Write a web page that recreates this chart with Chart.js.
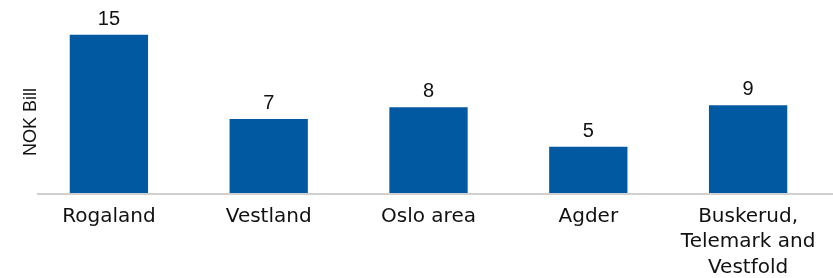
<!DOCTYPE html>
<html>
<head>
<meta charset="utf-8">
<script src="https://cdn.jsdelivr.net/npm/chart.js@4"></script>
<style>
  html, body { margin: 0; padding: 0; background: #fff; }
  #wrap { width: 833px; height: 278px; }
</style>
</head>
<body>
<div id="wrap"><canvas id="c"></canvas></div>
<script>
// regions and values (NOK bill), labels shown rounded
const regions = ['Rogaland', 'Vestland', 'Oslo area', 'Agder', ['Buskerud,', 'Telemark and', 'Vestfold']];
const values = [15.4, 7.2, 8.35, 4.5, 8.55];
const yTitle = 'NOK Bill';

const BAR_COLOR = '#0059a1';

// value labels over the bars, grey baseline and the axis title
const barLabels = {
  id: 'barLabels',
  beforeDatasetsDraw(chart) {
    const { ctx, chartArea } = chart;
    ctx.save();
    ctx.strokeStyle = '#d0d0d0';
    ctx.lineWidth = 2;
    ctx.beginPath();
    ctx.moveTo(37, chartArea.bottom + 1);
    ctx.lineTo(chart.width, chartArea.bottom + 1);
    ctx.stroke();

    // y title sits lower than the plot centre in the original
    ctx.translate(31, chartArea.bottom - 71);
    ctx.rotate(-Math.PI / 2);
    ctx.font = '18px "Liberation Sans", Arial, sans-serif';
    ctx.fillStyle = '#111';
    ctx.textAlign = 'center';
    ctx.textBaseline = 'middle';
    ctx.fillText(yTitle, 0, 0);
    ctx.restore();
  },
  afterDatasetsDraw(chart) {
    const { ctx } = chart;
    const meta = chart.getDatasetMeta(0);
    ctx.save();
    ctx.font = '20px "Liberation Sans", Arial, sans-serif';
    ctx.fillStyle = '#111';
    ctx.textAlign = 'center';
    ctx.textBaseline = 'alphabetic';
    meta.data.forEach((bar, i) => {
      ctx.fillText(String(Math.round(values[i])), bar.x, bar.y - 10);
    });
    ctx.restore();
  }
};

new Chart(document.getElementById('c'), {
  type: 'bar',
  data: {
    labels: regions,
    datasets: [{
      data: values,
      backgroundColor: BAR_COLOR,
      borderWidth: 0,
      barPercentage: 0.49,
      categoryPercentage: 1,
    }]
  },
  options: {
    responsive: true,
    maintainAspectRatio: false,
    animation: false,
    layout: { padding: { top: 8, left: 29, right: 5, bottom: 0 } },
    plugins: {
      legend: { display: false },
      tooltip: { enabled: false },
    },
    scales: {
      x: {
        grid: { display: false, drawTicks: false },
        border: { display: false },
        ticks: {
          padding: 11,
          color: '#111',
          font: { family: '"DejaVu Sans", sans-serif', size: 20, lineHeight: 1.275 },
          maxRotation: 0,
          autoSkip: false,
        },
        afterFit: (s) => { s.height = 85; },
      },
      y: {
        display: false,
        min: 0,
        max: 18,
      }
    }
  },
  plugins: [barLabels],
});
</script>
</body>
</html>
